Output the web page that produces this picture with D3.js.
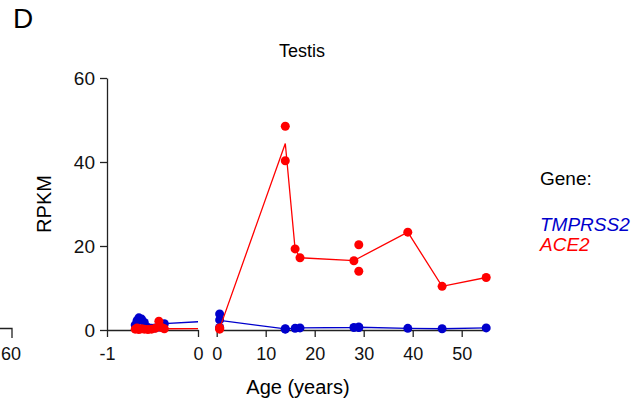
<!DOCTYPE html>
<html>
<head>
<meta charset="utf-8">
<script src="https://cdn.jsdelivr.net/npm/d3@7"></script>
<style>
  body { margin: 0; background: #fff; }
  svg { font-family: 'Liberation Sans', Arial, Helvetica, sans-serif; }
</style>
</head>
<body>
<svg id="chart"></svg>
<script>
const GENES = ['TMPRSS2', 'ACE2']
const COLORS = ['#0000cc', '#ff0000']

// prenatal samples, age in years before birth
const prenatalAges = [-0.69, -0.67, -0.65, -0.62, -0.59, -0.55, -0.51, -0.47, -0.43, -0.40, -0.37]
const tmprss2Prenatal = [1.2, 2.2, 2.9, 2.6, 1.8, 0.6, 0.4, 0.5, 0.7, 1.0, 1.5]
const ace2Prenatal = [0.2, 0.5, 0.1, 0.3, 0.2, 0.1, 0.2, 0.4, 2.1, 0.6, 0.3]

// postnatal samples, age in years
const postnatalAges = [0.6, 0.6, 0.6, 14, 14, 16, 17, 28, 29, 29, 39, 46, 55]
const tmprss2Postnatal = [3.8, 2.4, 0.6, 0.2, 0.3, 0.4, 0.5, 0.6, 0.6, 0.7, 0.4, 0.3, 0.5]
const ace2Postnatal = [0.4, 0.2, 0.5, 48.5, 40.3, 19.3, 17.2, 16.5, 20.3, 14.0, 23.3, 10.4, 12.5]

const yTicks = [0, 20, 40, 60]
const xTicksPrenatal = [-1, 0]
const xTicksPostnatal = [0, 10, 20, 30, 40, 50]

const width = 631
const height = 404

const svg = d3.select('#chart')
    .attr('width', width)
    .attr('height', height)

const y = d3.scaleLinear().domain([0, 60]).range([330, 78])
const xPre = d3.scaleLinear().domain([-1, 0]).range([107, 198])
const xPost = d3.scaleLinear().domain([0, 55]).range([216.7, 486.2])
const xAge = age => age < 0 ? xPre(age) : xPost(age)

function buildSeries(values, valuesPost) {
    const points = prenatalAges.map((a, i) => ({ age: a, value: values[i] }))
        .concat(postnatalAges.map((a, i) => ({ age: a, value: valuesPost[i] })))
    const means = d3.rollups(points, v => d3.mean(v, d => d.value), d => d.age)
        .map(([age, value]) => ({ age, value }))
        .sort((a, b) => a.age - b.age)
    return { points, means }
}

function drawAxes() {
    const yAxis = svg.append('g')
        .attr('transform', `translate(${xPre(-1)},0)`)
        .call(d3.axisLeft(y).tickValues(yTicks).tickSize(7).tickSizeOuter(0).tickPadding(5))
    yAxis.selectAll('text').style('font-size', '19px').attr('fill', '#111')

    const preAxis = svg.append('g')
        .attr('transform', `translate(0,${y(0)})`)
        .call(d3.axisBottom(xPre).tickValues(xTicksPrenatal).tickFormat(d3.format('d')).tickSize(7).tickSizeOuter(0).tickPadding(10))
    preAxis.selectAll('text').style('font-size', '18px').attr('fill', '#111')
        .text(d => d < 0 ? '-' + Math.abs(d) : d)

    const postAxis = svg.append('g')
        .attr('transform', `translate(0,${y(0)})`)
        .call(d3.axisBottom(xPost).tickValues(xTicksPostnatal).tickSize(7).tickSizeOuter(0).tickPadding(10))
    postAxis.selectAll('text').style('font-size', '18px').attr('fill', '#111')

    svg.selectAll('.domain, .tick line')
        .attr('stroke', '#222')
        .attr('stroke-width', 1.3)
}

function drawSeries(series, color) {
    const line = d3.line()
        .x(d => xAge(d.age))
        .y(d => y(d.value))

    ;['clipPre', 'clipPost'].forEach(id => {
        svg.append('path')
            .datum(series.means)
            .attr('clip-path', `url(#${id})`)
            .attr('fill', 'none')
            .attr('stroke', color)
            .attr('stroke-width', 1.3)
            .attr('d', line)
    })

    svg.append('g')
        .selectAll('circle')
        .data(series.points)
        .enter().append('circle')
        .attr('cx', d => xAge(d.age))
        .attr('cy', d => y(d.value))
        .attr('r', 4.5)
        .attr('fill', color)
}

function drawTexts() {
    svg.append('text')
        .attr('x', 13)
        .attr('y', 28)
        .style('font-size', '28px')
        .text('D')

    svg.append('text')
        .attr('x', 302)
        .attr('y', 56.5)
        .attr('text-anchor', 'middle')
        .style('font-size', '18px')
        .text('Testis')

    svg.append('text')
        .attr('transform', 'translate(51,204) rotate(-90)')
        .attr('text-anchor', 'middle')
        .style('font-size', '20px')
        .text('RPKM')

    svg.append('text')
        .attr('x', 298)
        .attr('y', 394)
        .attr('text-anchor', 'middle')
        .style('font-size', '20px')
        .text('Age (years)')

    // piece of the neighbouring panel
    svg.append('path')
        .attr('d', 'M0,328.5H12V338')
        .attr('fill', 'none')
        .attr('stroke', '#222')
        .attr('stroke-width', 1.3)
    svg.append('text')
        .attr('x', 11)
        .attr('y', 360)
        .attr('text-anchor', 'middle')
        .style('font-size', '18px')
        .attr('fill', '#111')
        .text('60')
}

function drawLegend() {
    svg.append('text')
        .attr('x', 540)
        .attr('y', 185)
        .style('font-size', '19px')
        .text('Gene:')

    svg.selectAll('.legend')
        .data(GENES)
        .enter().append('text')
        .attr('class', 'legend')
        .attr('x', 540)
        .attr('y', (d, i) => 231 + i * 20)
        .style('font-size', '19px')
        .style('font-style', 'italic')
        .attr('fill', (d, i) => COLORS[i])
        .text(d => d)
}

const defs = svg.append('defs')
defs.append('clipPath').attr('id', 'clipPre')
    .append('rect').attr('x', xPre(-1)).attr('y', 0).attr('width', xPre(0) - xPre(-1)).attr('height', height)
defs.append('clipPath').attr('id', 'clipPost')
    .append('rect').attr('x', xPost(0)).attr('y', 0).attr('width', width - xPost(0)).attr('height', height)

drawAxes()
drawSeries(buildSeries(tmprss2Prenatal, tmprss2Postnatal), COLORS[0])
drawSeries(buildSeries(ace2Prenatal, ace2Postnatal), COLORS[1])
drawTexts()
drawLegend()
</script>
</body>
</html>
